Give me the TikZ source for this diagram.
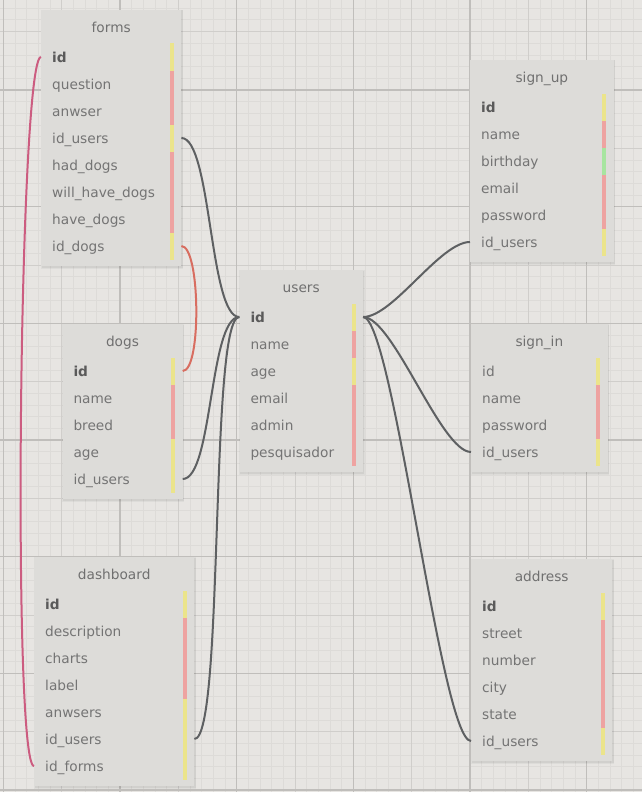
\documentclass[tikz,border=0pt]{standalone}
\usepackage{fontspec}
\setmainfont{DejaVu Sans}
\usetikzlibrary{calc}

\definecolor{canvas}{HTML}{E7E5E2}
\definecolor{gridminor}{HTML}{DDDBD8}
\definecolor{gridmid}{HTML}{D0CECB}
\definecolor{gridmajor}{HTML}{C0BEBB}
\definecolor{tablefill}{HTML}{DDDCD9}
\definecolor{titlegray}{HTML}{707070}
\definecolor{fieldgray}{HTML}{747474}
\definecolor{keygray}{HTML}{5A5A5A}
\definecolor{keybar}{HTML}{EBE48B}
\definecolor{textbar}{HTML}{EEA3A1}
\definecolor{datebar}{HTML}{A7E5A0}
\definecolor{linkgray}{HTML}{5E6062}
\definecolor{linkred}{HTML}{D86D60}
\definecolor{linkrose}{HTML}{CC5C80}

\tikzset{
  labelfont/.style={font=\fontsize{13.7}{16}\selectfont},
  tablebox/.style={rectangle, inner sep=0pt, fill=tablefill},
  tabletitle/.style={labelfont, text=titlegray, inner sep=0pt,
    text height=14.5pt, text depth=3pt},
  fieldrow/.style={labelfont, text=fieldgray, anchor=west, align=left,
    inner xsep=11pt, inner ysep=0pt, minimum height=27pt,
    text height=13.5pt, text depth=3pt},
  link/.style={line width=2pt, draw=linkgray},
}

% underscores in field names are printed as they are
\catcode`\_=12

% a table: name, title, left edge, y of the first field, width, number of fields
\newcommand\dbtable[6]{%
  \def\tabname{#1}\def\tableft{#3}\def\tabfirst{#4}\def\tabwidth{#5}%
  \pgfmathsetmacro\tabtop{#4-47.5}%
  \pgfmathsetmacro\tabheight{67.5+27*(#6-1)}%
  \pgfmathsetmacro\fieldw{#5-22}%
  \fill[black,opacity=.04] (#3-0.5,\tabtop+0.5) rectangle ++(#5+2.5,\tabheight+2.5);
  \fill[black,opacity=.05] (#3+0.5,\tabtop+1) rectangle ++(#5+1,\tabheight+1);
  \node[tablebox,minimum width=#5,minimum height=\tabheight,anchor=north west]
    (#1) at (#3,\tabtop) {};
  \node[tabletitle] (#1-title) at ($(#1.north)+(0,17)$) {#2};
}

% a field: index, name, colour of its type bar, font switch
\newcommand\dbfield[4]{%
  \pgfmathsetmacro\rowy{\tabfirst+27*#1}%
  \node[fieldrow,text width=\fieldw pt] (\tabname-#2) at (\tableft,\rowy) {#4#2};
  \fill[#3] (\tableft+\tabwidth-11,\rowy-13.5) rectangle ++(4,27);
}

\newcommand\keyfont{\bfseries\color{keygray}}

\begin{document}
\begin{tikzpicture}[x=1pt,y=-1pt]
  \useasboundingbox (0,0) rectangle (642,792);
  \fill[canvas] (0,0) rectangle (642,792);

  % background grid
  \begin{scope}
    \clip (0,0) rectangle (642,792);
    \foreach \k in {0,...,55}
      \draw[gridminor,line width=1pt] ({3.333+11.667*\k},0) -- ++(0,792);
    \foreach \k in {0,...,67}
      \draw[gridminor,line width=1pt] (0,{8.333+11.667*\k}) -- ++(642,0);
    \foreach \k in {0,...,11}
      \draw[gridmid,line width=1pt] ({3.333+58.333*\k},0) -- ++(0,792);
    \foreach \k in {0,...,13}
      \draw[gridmid,line width=1pt] (0,{31.667+58.333*\k}) -- ++(642,0);
    \foreach \k in {0,...,5}
      \draw[gridmajor,line width=1.2pt] ({3.333+116.667*\k},0) -- ++(0,792);
    \foreach \k in {0,...,7}
      \draw[gridmajor,line width=1.2pt] (0,{-26.667+116.667*\k}) -- ++(642,0);
  \end{scope}

  % forms
  \dbtable{forms}{forms}{41}{57}{140}{8}
  \dbfield{0}{id}{keybar}{\keyfont}
  \dbfield{1}{question}{textbar}{}
  \dbfield{2}{anwser}{textbar}{}
  \dbfield{3}{id_users}{keybar}{}
  \dbfield{4}{had_dogs}{textbar}{}
  \dbfield{5}{will_have_dogs}{textbar}{}
  \dbfield{6}{have_dogs}{textbar}{}
  \dbfield{7}{id_dogs}{keybar}{}

  % dogs
  \dbtable{dogs}{dogs}{62.3}{371}{120}{5}
  \dbfield{0}{id}{keybar}{\keyfont}
  \dbfield{1}{name}{textbar}{}
  \dbfield{2}{breed}{textbar}{}
  \dbfield{3}{age}{keybar}{}
  \dbfield{4}{id_users}{keybar}{}

  % dashboard
  \dbtable{dashboard}{dashboard}{34}{604}{160}{7}
  \dbfield{0}{id}{keybar}{\keyfont}
  \dbfield{1}{description}{textbar}{}
  \dbfield{2}{charts}{textbar}{}
  \dbfield{3}{label}{textbar}{}
  \dbfield{4}{anwsers}{keybar}{}
  \dbfield{5}{id_users}{keybar}{}
  \dbfield{6}{id_forms}{keybar}{}

  % users
  \dbtable{users}{users}{239.3}{317}{123.4}{6}
  \dbfield{0}{id}{keybar}{\keyfont}
  \dbfield{1}{name}{textbar}{}
  \dbfield{2}{age}{keybar}{}
  \dbfield{3}{email}{textbar}{}
  \dbfield{4}{admin}{textbar}{}
  \dbfield{5}{pesquisador}{textbar}{}

  % sign_up
  \dbtable{sign_up}{sign_up}{470}{107}{143.3}{6}
  \dbfield{0}{id}{keybar}{\keyfont}
  \dbfield{1}{name}{textbar}{}
  \dbfield{2}{birthday}{datebar}{}
  \dbfield{3}{email}{textbar}{}
  \dbfield{4}{password}{textbar}{}
  \dbfield{5}{id_users}{keybar}{}

  % sign_in
  \dbtable{sign_in}{sign_in}{471}{371}{136.3}{4}
  \dbfield{0}{id}{keybar}{}
  \dbfield{1}{name}{textbar}{}
  \dbfield{2}{password}{textbar}{}
  \dbfield{3}{id_users}{keybar}{}

  % address
  \dbtable{address}{address}{471}{606}{141}{6}
  \dbfield{0}{id}{keybar}{\keyfont}
  \dbfield{1}{street}{textbar}{}
  \dbfield{2}{number}{textbar}{}
  \dbfield{3}{city}{textbar}{}
  \dbfield{4}{state}{textbar}{}
  \dbfield{5}{id_users}{keybar}{}

  % relations into users.id
  \draw[link] (forms-id_users.east) .. controls +(30,0) and +(-30,0) .. (users-id.west);
  \draw[link] (dogs-id_users.east) .. controls +(30,0) and +(-30,0) .. (users-id.west);
  \draw[link] (dashboard-id_users.east) .. controls +(30,0) and +(-30,0) .. (users-id.west);
  \draw[link] (users-id.east) .. controls +(30,0) and +(-30,0) .. (sign_up-id_users.west);
  \draw[link] (users-id.east) .. controls +(30,0) and +(-30,0) .. (sign_in-id_users.west);
  \draw[link] (users-id.east) .. controls +(30,0) and +(-30,0) .. (address-id_users.west);

  % forms.id_dogs -> dogs.id
  \draw[link,draw=linkred] (forms-id_dogs.east) .. controls +(19,0) and +(19,0) .. (dogs-id.east);
  % dashboard.id_forms -> forms.id
  \draw[link,draw=linkrose] (forms-id.west) .. controls +(-22,0) and +(-22,0) .. (dashboard-id_forms.west);
\end{tikzpicture}
\end{document}
